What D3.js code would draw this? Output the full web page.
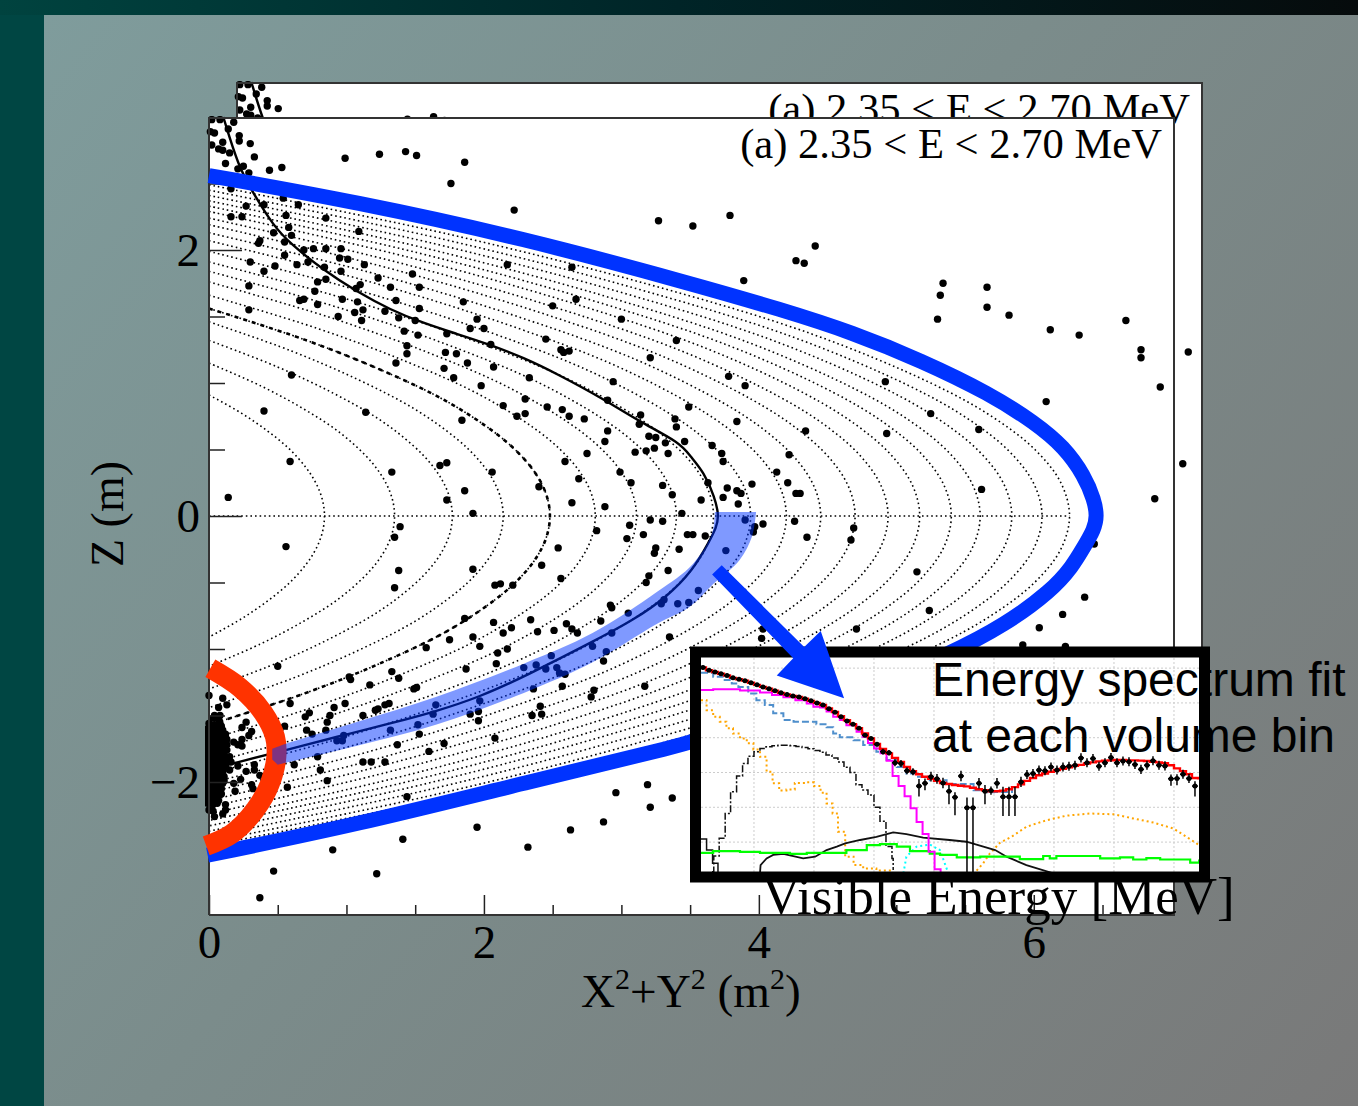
<!DOCTYPE html>
<html>
<head>
<meta charset="utf-8">
<script src="https://cdn.jsdelivr.net/npm/d3@7"></script>
<style>
  html, body { margin: 0; padding: 0; background: #000; }
  svg { display: block; }
  text { font-family: "Liberation Serif", serif; fill: #000; }
</style>
</head>
<body>
<div id="chart"></div>
<script>
// event positions, [X2+Y2, Z]
const topDots = [[.02,2.98],[.08,2.98],[.18,2.96],[.01,2.89],[.04,2.88],[.14,2.91],[.22,2.86],[.22,2.82],[.30,2.80],[.10,2.81],[.02,2.79],[.07,2.76],[.10,2.75],[.15,2.73],[.33,2.70],[.12,2.65],[.25,2.63],[.21,2.61],[.44,2.60],[.53,2.62],[.29,2.58],[.16,2.46],[.27,2.33],[.40,2.34],[.54,2.39],[.65,2.34],[.16,2.25],[.24,2.25],[.56,2.26],[.58,2.17],
  [.99,2.69],[1.24,2.72],[1.43,2.74],[1.51,2.71],[1.86,2.66],[1.76,2.50],[2.22,2.30],[3.27,2.22],[3.52,2.18],[3.79,2.26],[4.27,1.92],[4.33,1.90],[4.41,2.03],[3.89,1.77]];
const upperDots = [[.85,2.24],[1.09,2.14],[.60,2.11],[.47,2.13],[.55,2.06],[.37,2.07],[.36,2.05],[.55,1.96],[.69,2.00],[.76,2.01],[.85,2.01],[.96,2.01],[.95,1.94],[1.01,1.93],[1.13,1.89],[.72,1.91],[.64,1.89],[.48,1.88],[.30,1.91],[.40,1.84],[.84,1.87],[.96,1.84],[.85,1.78],[.79,1.76],[1.23,1.79],[1.48,1.82],[1.10,1.74],[1.07,1.71],[1.32,1.72],[1.53,1.72],[.29,1.73],[.77,1.69],[.97,1.63],[.69,1.63],[.66,1.62],[.79,1.59],[1.08,1.61],[1.36,1.62],[1.85,1.61],[1.53,1.56],[.29,1.55],[1.12,1.55],[1.06,1.53],[1.28,1.54],[.94,1.50],[1.38,1.49],[1.11,1.47],[1.50,1.47],[1.95,1.48],[1.90,1.41],[2.00,1.41],[1.42,1.39],[1.73,1.37],[1.52,1.36],[2.05,1.29],[2.45,1.33],[1.44,1.28],[1.44,1.22],[1.72,1.23],[1.80,1.22],[2.56,1.25],[2.58,1.23],[2.62,1.24],[1.36,1.15],[1.88,1.15],[2.07,1.12],[1.71,1.11],[1.78,1.04],[2.33,1.04],[.60,1.06],[1.98,.98],[2.14,.83],[2.30,.88],[2.46,.82],[2.57,.80],[2.62,.75],[2.30,.77],[2.24,.75],[2.73,.73],[1.84,.72],[.40,.79],[1.14,.78],[2.90,.87],[2.90,.64],[2.88,.56],[2.75,.47],[2.59,.41],[2.69,.28],[2.06,.33],[1.68,.38],[1.73,.40],[1.33,.33],[.59,.41],[1.86,.19],[1.73,.12],[.14,.14],[2.40,.22],[2.64,.10],[1.92,.02],[2.88,.07],[2.99,.33],[3.07,.25],[3.13,.69],[3.14,.76],[3.20,.60],[3.25,.59],[3.24,.51],[3.18,.49],[3.10,.48],[3.32,.55],[3.34,.47],[3.39,.73],[3.40,.67],[3.46,.56],[3.49,.82],[3.30,.23],[3.37,.16],[3.44,.02],[3.21,1.19],[3.40,1.32],[3.00,1.48],[2.94,1.01],[2.50,1.58],[2.67,1.63],[2.17,1.89],[2.64,1.87]];
const rightDots = [[5.34,1.75],[5.32,1.66],[5.30,1.48],[5.66,1.72],[5.66,1.57],[5.82,1.51],[6.12,1.40],[6.33,1.36],[6.67,1.47],[6.78,1.25],[6.78,1.19],[6.92,.97],[6.88,.13],[6.09,.86],[4.92,1.01],[5.25,.77],[5.60,.65],[3.78,1.05],[3.90,.98],[3.84,.71],[4.34,.64],[4.93,.62],[3.66,.53],[3.73,.47],[3.74,.41],[4.22,.46],[4.13,.33],[4.21,.25],[4.27,.17],[4.30,.17],[3.95,.24],[3.77,.21],[3.84,.19],[3.87,.17],[3.74,.14],[3.85,.09],[3.63,.25],[3.58,.12],[5.62,.20],[4.26,-.04],[4.03,-.06],[3.97,-.08],[3.96,-.12],[3.90,-.03],[3.76,-.26],[4.35,-.16],[4.69,-.09],[4.67,-.18],[5.15,-.42],[3.61,-.15],[6.44,-.21],[4.03,-.85],[4.02,-.92],[4.71,-.85],[6.21,-.74],[6.04,-.84],[6.37,-.61],[5.24,-.71],[5.92,-.97],[6.23,-.98]];
const lowerDots = [[3.21,-.03],[3.30,-.04],[3.06,-.07],[2.82,-.11],[1.39,-.08],[.56,-.23],[1.35,-.16],[1.38,-.41],[1.35,-.54],[1.92,-.40],[2.08,-.52],[2.12,-.51],[2.21,-.52],[2.54,-.24],[2.42,-.37],[2.56,-.47],[3.04,-.17],[3.16,-.14],[3.48,-.14],[3.52,-.14],[3.24,-.28],[3.25,-.24],[3.42,-.25],[3.34,-.41],[3.20,-.45],[3.18,-.50],[2.92,-.67],[2.93,-.69],[3.05,-.73],[2.85,-.79],[3.29,-.66],[3.31,-.63],[3.41,-.66],[3.49,-.65],[3.56,-.56],[3.35,-.91],[2.93,-.88],[2.79,-.98],[2.89,-1.02],[2.87,-1.09],[2.60,-.81],[2.64,-.85],[2.68,-.88],[2.34,-.78],[2.51,-.86],[2.39,-.87],[2.20,-.84],[2.14,-.88],[2.07,-.80],[1.86,-.77],[1.92,-.91],[1.97,-.98],[2.17,-1.00],[2.10,-1.03],[2.09,-1.11],[1.87,-1.15],[1.75,-.93],[1.58,-.99],[1.33,-1.17],[1.38,-1.22],[1.02,-1.21],[1.03,-1.23],[1.17,-1.27],[1.49,-1.30],[1.51,-1.29],[2.29,-1.14],[2.38,-1.12],[2.45,-1.15],[2.53,-1.14],[2.55,-1.18],[2.59,-1.19],[2.49,-1.05],[2.36,-1.30],[2.57,-1.28],[3.17,-1.28],[2.80,-1.31],[2.78,-1.36],[1.97,-1.39],[1.65,-1.42],[1.63,-1.49],[1.90,-1.49],[1.96,-1.47],[1.96,-1.54],[2.41,-1.43],[2.42,-1.49],[2.35,-1.50],[1.31,-1.41],[1.28,-1.42],[1.23,-1.45],[1.21,-1.46],[1.12,-1.50],[.99,-1.41],[.91,-1.44],[.88,-1.50],[.73,-1.48],[.70,-1.51],[.59,-1.41],[.50,-1.13],[.86,-1.55],[.85,-1.61],[.75,-1.64],[.71,-1.61],[.55,-1.58],[1.32,-1.61],[1.52,-1.57],[1.53,-1.64],[2.08,-1.67],[1.71,-1.71],[1.60,-1.77],[1.37,-1.72],[.98,-1.65],[.93,-1.69],[.97,-1.69],[.79,-1.81],[1.12,-1.85],[1.18,-1.85],[1.28,-1.85],[.81,-1.91],[.62,-1.87],[.86,-1.99],[.57,-2.04],[1.44,-2.11],[2.96,-2.08],[3.19,-2.02],[3.21,-2.19],[3.37,-2.12],[2.87,-2.30],[2.63,-2.36],[1.95,-2.34],[2.32,-2.49],[1.41,-2.43],[.90,-2.51],[.47,-2.67],[1.22,-2.69],[.37,-2.87]];
const clusterDots = [[0,-1.35],[.10,-1.37],[.07,-1.44],[.13,-1.42],[.04,-1.50],[.08,-1.50],[.27,-1.55],[.24,-1.59],[.31,-1.62],[.29,-1.65],[.24,-1.68],[.21,-1.72],[.24,-1.73],[.18,-1.70],[.15,-1.81],[.16,-1.85],[.21,-1.88],[.15,-1.91],[.27,-1.92],[.33,-1.87],[.33,-1.91],[.37,-1.95],[.23,-1.98],[.18,-2.01],[.31,-2.02],[.32,-2.05],[.19,-2.07],[.12,-2.17],[.12,-2.21],[.10,-2.24],[.04,-2.26],[0,-2.21],[.03,-2.22],
  [.03,-1.52],[.07,-1.53],[0,-1.56],[.04,-1.57],[.08,-1.56],[-.01,-1.60],[.03,-1.61],[.07,-1.60],[.10,-1.61],[-.02,-1.64],[.02,-1.65],[.06,-1.64],[.10,-1.65],[-.02,-1.68],[.02,-1.69],[.06,-1.68],[.10,-1.69],[.13,-1.68],[-.02,-1.72],[.02,-1.73],[.05,-1.72],[.09,-1.73],[.13,-1.72],[-.02,-1.76],[.02,-1.77],[.06,-1.76],[.10,-1.77],[.13,-1.76],[-.02,-1.80],[.01,-1.81],[.05,-1.80],[.09,-1.81],[-.02,-1.84],[.02,-1.85],[.06,-1.84],[.10,-1.85],[.12,-1.84],[-.02,-1.88],[.01,-1.89],[.05,-1.88],[.09,-1.89],[.12,-1.88],[-.02,-1.92],[.02,-1.93],[.06,-1.92],[.10,-1.93],[-.02,-1.96],[.01,-1.97],[.05,-1.96],[.09,-1.97],[.11,-1.96],[-.02,-2.00],[.02,-2.01],[.06,-2.00],[.10,-2.01],[-.02,-2.04],[.01,-2.05],[.05,-2.04],[.09,-2.05],[-.02,-2.08],[.02,-2.09],[.06,-2.08],[.09,-2.09],[-.01,-2.12],[.02,-2.13],[.05,-2.12],[-.01,-2.16],[.03,-2.17],[.06,-2.16],
  [.01,-1.58],[.05,-1.59],[.09,-1.58],[0,-1.62],[.04,-1.63],[.08,-1.62],[.12,-1.64],[0,-1.66],[.04,-1.67],[.08,-1.66],[.12,-1.66],[0,-1.70],[.04,-1.71],[.08,-1.70],[.11,-1.70],[0,-1.74],[.04,-1.75],[.08,-1.74],[.11,-1.74],[0,-1.78],[.03,-1.79],[.07,-1.78],[.11,-1.79],[0,-1.82],[.03,-1.83],[.07,-1.82],[.11,-1.82],[0,-1.86],[.04,-1.87],[.08,-1.86],[.11,-1.86],[0,-1.90],[.03,-1.91],[.07,-1.90],[.11,-1.90],[0,-1.94],[.04,-1.95],[.08,-1.94],[0,-1.98],[.03,-1.99],[.07,-1.98],[.11,-1.99],[0,-2.02],[.04,-2.03],[.08,-2.02],[0,-2.06],[.03,-2.07],[.07,-2.06],[0,-2.10],[.04,-2.11],[.07,-2.10],[0,-2.14],[.03,-2.15],[.07,-2.14]];

// dotted bin boundaries: tip on the Z=0 line, crossing of the Z axis above and below
const contourTips = [.84,1.35,1.77,2.14,2.48,2.81,3.11,3.40,3.67,3.94,4.20,4.45,4.70,4.94,5.17,5.40,5.61,5.84,6.06,6.26];
const contourTops = [.91,1.15,1.32,1.46,1.56,1.66,1.76,1.84,1.91,1.99,2.07,2.13,2.19,2.24,2.29,2.33,2.37,2.41,2.45,2.49];
const contourBottoms = [-.91,-1.13,-1.30,-1.44,-1.57,-1.68,-1.77,-1.86,-1.94,-2.01,-2.08,-2.14,-2.19,-2.24,-2.29,-2.33,-2.37,-2.41,-2.45,-2.48];
// shape shared by the boundaries: fraction of the axis crossing, fraction of the tip
const contourProfile = [[1,0],[.85,.28],[.7,.51],[.55,.70],[.4,.84],[.3,.91],[.2,.96],[.1,.99],[0,1]];
const heavyContour = 4;

const solidCurve = [[.104,3.0],[.213,2.63],[.32,2.43],[.47,2.18],[.59,2.05],[.83,1.85],[1.07,1.69],[1.32,1.55],[1.56,1.45],[1.80,1.37],[2.04,1.29],[2.29,1.19],[2.53,1.07],[2.87,.88],[3.13,.71],[3.43,.55],[3.50,.45],[3.60,.33],[3.68,.14],[3.71,0],[3.69,-.09],[3.64,-.19],[3.52,-.41],[3.33,-.61],[3.09,-.78],[2.84,-.92],[2.29,-1.21],[1.97,-1.36],[1.65,-1.47],[1.32,-1.56],[.93,-1.66],[.56,-1.76],[.18,-1.86],[0,-1.90]];
const blueBoundary = [[0,2.56],[1.08,2.36],[2.28,2.09],[3.50,1.75],[4.17,1.55],[4.68,1.38],[5.18,1.17],[5.68,.92],[6.01,.70],[6.22,.52],[6.37,.30],[6.44,.12],[6.46,0],[6.44,-.10],[6.36,-.24],[6.28,-.38],[6.13,-.56],[5.79,-.82],[5.38,-1.04],[4.90,-1.25],[4.33,-1.46],[3.57,-1.67],[3.50,-1.71],[2.28,-2.01],[1.08,-2.32],[-.01,-2.55]];
const redArc = [[.01,-1.145],[.225,-1.29],[.395,-1.48],[.48,-1.66],[.49,-1.81],[.44,-2.02],[.335,-2.21],[.165,-2.39],[-.02,-2.48]];
const bandInner = [[3.68,.03],[3.66,-.13],[3.52,-.36],[3.26,-.57],[2.79,-.88],[2.29,-1.11],[1.65,-1.36],[1.07,-1.55],[.565,-1.71],[.46,-1.75]];
const bandOuter = [[.50,-1.87],[1.07,-1.73],[1.65,-1.57],[2.29,-1.33],[2.79,-1.10],[3.26,-.81],[3.50,-.68],[3.67,-.51],[3.86,-.33],[3.95,-.155],[3.98,.03]];
const bandEnd = [[.46,-1.83]];
const arrowShape = [[3.73,-.37],[4.33,-.985],[4.45,-.865],[4.62,-1.37],[4.13,-1.20],[4.25,-1.07],[3.66,-.44]];

const xMajor = [0, 2, 4, 6];
const xMinor = [.5,1,1.5,2.5,3,3.5,4.5,5,5.5,6.5];
const zMajor = [-2, 0, 2];
const zMinor = [-2.5,-1.5,-1,-.5,.5,1,1.5,2.5];
const zeroLineEnd = 6.26;

// inset spectrum, in bins and grid divisions
const specGridX = [10,20,30,40,50,60,70,80];
const specGridY = [1,2,3,4,5,6];
const specPoints = [6.02,5.94,5.89,5.84,5.79,5.72,5.68,5.64,5.58,5.52,5.46,5.41,5.35,5.29,5.24,5.20,5.17,5.12,5.06,5.00,4.94,4.83,4.73,4.60,4.48,4.39,4.27,4.07,3.98,3.81,3.60,3.57,3.28,3.26,3.05,3.02,2.61,2.69,2.88,2.82,2.70,2.46,2.29,2.90,1.99,1.99,2.69,2.46,2.48,2.69,2.30,2.30,2.30,2.73,2.94,2.97,3.07,3.05,3.16,3.07,3.16,3.18,3.21,3.42,3.28,3.40,3.18,3.28,3.43,3.28,3.33,3.31,3.23,3.09,3.21,3.34,3.21,3.19,2.82,2.83,2.95,2.83,2.61];
const specErrUp = [.05,.05,.05,.05,.05,.05,.05,.05,.05,.05,.05,.05,.05,.05,.05,.05,.05,.05,.05,.05,.05,.05,.05,.05,.05,.05,.05,.05,.05,.06,.08,.08,.1,.1,.1,.1,.2,.14,.14,.14,.15,.18,.14,.15,.29,.29,.15,.18,.12,.15,.29,.29,.29,.15,.13,.13,.13,.13,.13,.13,.13,.13,.13,.13,.13,.13,.13,.13,.13,.13,.13,.13,.13,.13,.13,.13,.13,.13,.12,.12,.13,.13,.14];
const specErrDown = [.05,.05,.05,.05,.05,.05,.05,.05,.05,.05,.05,.05,.05,.05,.05,.05,.05,.05,.05,.05,.05,.05,.05,.05,.05,.05,.05,.05,.05,.06,.08,.08,.1,.1,.1,.1,.3,.2,.14,.14,.15,.37,.52,.15,3,3,.15,.37,.12,.15,.55,.55,.55,.15,.13,.13,.13,.13,.13,.13,.13,.13,.13,.13,.13,.13,.13,.13,.13,.13,.13,.13,.13,.13,.13,.13,.13,.13,.2,.2,.13,.13,.30];
const specTotal = [6.02,5.94,5.89,5.84,5.79,5.72,5.68,5.64,5.58,5.52,5.46,5.41,5.35,5.29,5.24,5.20,5.17,5.12,5.06,5.00,4.94,4.84,4.74,4.62,4.50,4.39,4.27,4.12,3.98,3.82,3.68,3.55,3.42,3.30,3.16,3.04,2.95,2.88,2.82,2.76,2.70,2.67,2.64,2.62,2.60,2.56,2.52,2.49,2.46,2.46,2.48,2.52,2.58,2.66,2.76,2.84,2.92,2.97,3.02,3.07,3.11,3.15,3.19,3.22,3.26,3.29,3.32,3.34,3.35,3.36,3.36,3.35,3.35,3.34,3.33,3.31,3.29,3.27,3.21,3.12,3.04,2.95,2.84,2.80];
const specMagenta = [[1.17,5.37],[3.2,5.39],[5.4,5.39],[7.67,5.36],[11,5.30],[13,5.23],[14.9,5.16],[16.9,5.08],[18.8,4.98],[19.9,4.89],[21,4.87],[22.1,4.75],[23.2,4.60],[24.3,4.51],[25.4,4.36],[27.1,4.17],[28.1,4.03],[29,3.85],[30,3.69],[31.1,3.55],[32.1,3.34],[33.1,2.90],[34.1,2.61],[35.1,2.32],[36.1,1.97],[37.1,1.58],[38.1,1.23],[39.1,.72],[40.1,.22],[41.1,0]];
const specSteel = [[1.17,5.87],[3.2,5.75],[4.9,5.66],[6.3,5.56],[7.4,5.46],[9.05,5.27],[10.4,5.08],[11.8,4.94],[13.2,4.70],[14.9,4.51],[16.6,4.46],[18.8,4.46],[20.4,4.39],[22.1,4.30],[23.2,4.12],[24.3,4.01],[26.6,3.93],[28.2,3.79],[30.4,3.60],[32.1,3.36],[33.8,3.16],[35.4,2.97],[37.1,2.88],[39.3,2.78],[42.1,2.67],[46.6,2.49],[49,2.43],[50,2.44],[53,2.62]];
const specOrangeLow = [[1.17,5.08],[2.1,4.79],[3.2,4.60],[4.3,4.46],[5.4,4.27],[6.5,4.12],[7.67,3.98],[8.8,3.84],[9.9,3.66],[11,3.45],[12.1,3.02],[13.1,2.69],[14.2,2.48],[15.4,2.51],[16.8,2.70],[18.8,2.72],[20,2.61],[21.1,2.42],[22.1,2.11],[23.1,1.82],[24,1.30],[25.2,1.01],[25.2,.58],[26.6,.34],[28.2,.24],[30.4,.18],[33.2,.16]];
const specOrangeHigh = [[47.1,.18],[48.2,.39],[49.3,.67],[51,.98],[52.9,1.15],[55.4,1.44],[58.8,1.63],[62.1,1.76],[66,1.82],[69.9,1.80],[73.2,1.68],[76.6,1.56],[79.9,1.39],[82.1,1.15],[84.2,.91]];
const specDashDot = [[3,.15],[3.3,.6],[4.2,1.11],[5.2,1.82],[6.1,2.45],[7.1,2.90],[8.1,3.26],[9,3.47],[10,3.60],[11,3.69],[12,3.74],[13,3.77],[14,3.78],[15,3.78],[16,3.77],[17,3.75],[18,3.72],[19,3.68],[20,3.63],[21,3.58],[22,3.50],[23,3.42],[24,3.30],[25,3.15],[26,3.00],[27,2.65],[28,2.50],[29,2.35],[30,2.00],[31,1.60],[32,.87],[33,.53],[33.2,.2]];
const specBlackLeft = [[1.17,1.09],[2.1,.77],[3.1,.39],[4,.1]];
const specBlack = [[11,.1],[11.1,.34],[12.1,.53],[13.2,.63],[14.9,.66],[18.2,.53],[20.2,.58],[22.1,.77],[23.8,.87],[25.2,.96],[27.7,1.06],[30.4,1.15],[33.2,1.28],[35.4,1.23],[38.2,1.13],[42.6,1.06],[45.4,1.01],[50.2,.77],[52.1,.58],[55.4,.34],[59.9,.1]];
const specGreen = [[1.17,.69],[3.2,.74],[7.67,.72],[11,.69],[16,.66],[18.8,.69],[25.4,.77],[28.8,.91],[31,.94],[33.8,.87],[36,.74],[39.3,.67],[41,.63],[43.8,.56],[47.7,.58],[50.4,.58],[54.3,.51],[58.2,.60],[59.3,.53],[60.4,.60],[64.3,.60],[67.7,.53],[71,.56],[73.2,.50],[75.4,.54],[77.7,.50],[81.6,.50],[82.7,.41],[84.2,.50]];
const specCyan = [[34.9,.1],[35.4,.58],[37.1,.87],[39.3,.93],[41,.77],[42.4,.1]];

const width = 1358, height = 1106;
const svg = d3.select("#chart").append("svg")
    .attr("width", width)
    .attr("height", height);

const defs = svg.append("defs");

function addGradient(id, x1, y1, x2, y2, stops) {
    const g = defs.append("linearGradient")
        .attr("id", id)
        .attr("gradientUnits", "userSpaceOnUse")
        .attr("x1", x1).attr("y1", y1).attr("x2", x2).attr("y2", y2);
    stops.forEach(s => g.append("stop").attr("offset", s[0]).attr("stop-color", s[1]));
}
addGradient("slideBg", 44, 15, 1358, 1106, [[0, "#7f9c9c"], [.45, "#7b8c8b"], [1, "#797979"]]);
addGradient("topBar", 0, 0, 1358, 0, [[0, "#00433f"], [.5, "#002427"], [1, "#060b0c"]]);

svg.append("rect").attr("width", width).attr("height", height).attr("fill", "#004643");
svg.append("rect").attr("width", width).attr("height", 15).attr("fill", "url(#topBar)");
svg.append("rect").attr("x", 44).attr("y", 15).attr("width", width - 44).attr("height", height - 15).attr("fill", "url(#slideBg)");

// main scales
const x = d3.scaleLinear().domain([0, 7.02]).range([209, 1174]);
const z = d3.scaleLinear().domain([-3, 3]).range([915, 117]);
const panelW = 965, panelH = 796;

const smooth = d3.line().x(d => x(d[0])).y(d => z(d[1])).curve(d3.curveCatmullRom.alpha(.5));
const rounded = d3.line().x(d => x(d[0])).y(d => z(d[1])).curve(d3.curveBasis);
const allDots = topDots.concat(upperDots, rightDots, lowerDots, clusterDots);

function contourPoints(i) {
    const up = contourProfile.map(p => [contourTips[i] * p[1], contourTops[i] * p[0]]);
    const down = contourProfile.slice(0, -1).reverse().map(p => [contourTips[i] * p[1], contourBottoms[i] * p[0]]);
    return up.concat(down);
}

// the plot itself; it sits twice on the slide, one copy slipped behind the other
function drawPlot(g, clipId, front) {
    g.append("rect")
        .attr("x", x(0)).attr("y", z(3) + 1)
        .attr("width", panelW).attr("height", panelH)
        .attr("fill", "#fff");

    defs.append("clipPath").attr("id", clipId).append("rect")
        .attr("x", x(0) - 4).attr("y", z(3) - 1)
        .attr("width", panelW + 4).attr("height", panelH + 2);

    g.selectAll(".contour")
        .data(contourTips)
        .enter().append("path")
        .attr("class", "contour")
        .attr("d", (d, i) => smooth(contourPoints(i)))
        .attr("fill", "none")
        .attr("stroke", "#000")
        .attr("stroke-width", 1.6)
        .attr("stroke-dasharray", "1.6 3");

    g.append("path")
        .attr("d", smooth(contourPoints(heavyContour)))
        .attr("fill", "none")
        .attr("stroke", "#000")
        .attr("stroke-width", 2.6)
        .attr("stroke-dasharray", "4 5");

    g.append("line")
        .attr("x1", x(0)).attr("x2", x(zeroLineEnd))
        .attr("y1", z(0)).attr("y2", z(0))
        .attr("stroke", "#000")
        .attr("stroke-width", 1.6)
        .attr("stroke-dasharray", "1.6 3");

    const clipped = g.append("g").attr("clip-path", `url(#${clipId})`);

    clipped.selectAll("circle")
        .data(allDots)
        .enter().append("circle")
        .attr("cx", d => x(d[0]))
        .attr("cy", d => z(d[1]))
        .attr("r", 3.7)
        .attr("fill", "#000");

    clipped.append("path")
        .attr("d", rounded(solidCurve))
        .attr("fill", "none")
        .attr("stroke", "#000")
        .attr("stroke-width", 2.4);

    // axes
    function addAxis(axis, tx, ty, labels) {
        const a = g.append("g").attr("transform", `translate(${tx},${ty})`).call(axis);
        a.select(".domain").remove();
        a.selectAll("line").attr("stroke", "#222").attr("stroke-width", 1.5);
        if (labels) {
            a.selectAll("text")
                .attr("font-family", "Liberation Serif, serif")
                .attr("font-size", 47);
        } else {
            a.selectAll("text").remove();
        }
    }
    addAxis(d3.axisLeft(z).tickValues(zMajor).tickSizeInner(-33).tickSizeOuter(0).tickPadding(9)
        .tickFormat(d => d < 0 ? "\u2212" + Math.abs(d) : d), x(0), 0, front);
    addAxis(d3.axisLeft(z).tickValues(zMinor).tickSizeInner(-16).tickSizeOuter(0), x(0), 0, false);
    addAxis(d3.axisBottom(x).tickValues(xMajor).tickSizeInner(-20).tickSizeOuter(0).tickPadding(10)
        .tickFormat(d3.format("d")), 0, z(-3), front);
    addAxis(d3.axisBottom(x).tickValues(xMinor).tickSizeInner(-10).tickSizeOuter(0), 0, z(-3), false);

    // frame
    g.append("path")
        .attr("d", `M${x(0)},${z(-3)}V${z(3) + 1}H${x(0) + panelW}V${z(-3)}H${x(0)}`)
        .attr("fill", "none")
        .attr("stroke", "#333")
        .attr("stroke-width", 2);

    // the title is cut by the frame on the hidden copy
    g.append("text")
        .attr("x", x(0) + 953)
        .attr("y", z(3) + 41)
        .attr("text-anchor", "end")
        .attr("font-size", 42.6)
        .text("(a) 2.35 < E < 2.70 MeV");
}

drawPlot(svg.append("g").attr("transform", "translate(28,-35)"), "clipBack", false);
drawPlot(svg.append("g"), "clipFront", true);

// axis titles
const xTitle = svg.append("text")
    .attr("x", 581)
    .attr("y", 1007)
    .attr("font-size", 47.2);
xTitle.append("tspan").text("X");
xTitle.append("tspan").attr("dy", -18).attr("font-size", 30).text("2");
xTitle.append("tspan").attr("dy", 18).text("+Y");
xTitle.append("tspan").attr("dy", -18).attr("font-size", 30).text("2");
xTitle.append("tspan").attr("dy", 18).text(" (m");
xTitle.append("tspan").attr("dy", -18).attr("font-size", 30).text("2");
xTitle.append("tspan").attr("dy", 18).text(")");

svg.append("text")
    .attr("transform", "translate(123,567) rotate(-90)")
    .attr("font-size", 46)
    .text("Z (m)");

// overlays drawn on the slide
svg.append("path")
    .attr("d", rounded(blueBoundary))
    .attr("fill", "none")
    .attr("stroke", "#0033ff")
    .attr("stroke-width", 15);

svg.append("path")
    .attr("d", smooth(redArc))
    .attr("fill", "none")
    .attr("stroke", "#ff3300")
    .attr("stroke-width", 20);

const bandPath = smooth(bandInner) + "L" + x(bandEnd[0][0]) + "," + z(bandEnd[0][1]) + "L" + smooth(bandOuter).slice(1) + "Z";
svg.append("path")
    .attr("d", bandPath)
    .attr("fill", "#0033ff")
    .attr("fill-opacity", .5);

// axis label of the pasted spectrum, mostly under its frame
svg.append("text")
    .attr("x", 762)
    .attr("y", 914)
    .attr("font-size", 53)
    .text("Visible Energy [MeV]");

// inset
const ix = d3.scaleLinear().domain([1.17, 84.17]).range([701, 1199]);
const iy = d3.scaleLinear().domain([.14, 6.32]).range([872, 657]);

svg.append("rect")
    .attr("x", ix(1.17)).attr("y", iy(6.32))
    .attr("width", 498).attr("height", 215)
    .attr("fill", "#fff");

defs.append("clipPath").attr("id", "clipInset").append("rect")
    .attr("x", ix(1.17)).attr("y", iy(6.32))
    .attr("width", 498).attr("height", 215);

const inset = svg.append("g").attr("clip-path", "url(#clipInset)");

inset.selectAll(".gridx").data(specGridX).enter().append("line")
    .attr("x1", d => ix(d)).attr("x2", d => ix(d))
    .attr("y1", iy(.14)).attr("y2", iy(6.32))
    .attr("stroke", "#ccc").attr("stroke-dasharray", "2 2");
inset.selectAll(".gridy").data(specGridY).enter().append("line")
    .attr("x1", ix(1.17)).attr("x2", ix(84.17))
    .attr("y1", d => iy(d)).attr("y2", d => iy(d))
    .attr("stroke", "#ccc").attr("stroke-dasharray", "2 2");

const stepLine = d3.line().x(d => ix(d[0])).y(d => iy(d[1])).curve(d3.curveStepAfter);
const plainLine = d3.line().x(d => ix(d[0])).y(d => iy(d[1]));
const specBin = i => i + 1;

function addSpec(gen, data, color, w, dash) {
    inset.append("path")
        .attr("d", gen(data))
        .attr("fill", "none")
        .attr("stroke", color)
        .attr("stroke-width", w)
        .attr("stroke-dasharray", dash || null);
}
addSpec(stepLine, specOrangeLow, "#ffa500", 2, "2 3");
addSpec(plainLine, specOrangeHigh, "#ffa500", 2, "2 3");
addSpec(plainLine, specCyan, "#00ffff", 2, "2 3");
addSpec(stepLine, specDashDot, "#111", 1.5, "7 2 2 2");
addSpec(stepLine, specBlackLeft, "#111", 1.5);
addSpec(plainLine, specBlack, "#111", 1.8);
addSpec(stepLine, specGreen, "#00ff00", 2.2);
addSpec(stepLine, specSteel, "#4f8fcc", 2, "7 3");
addSpec(stepLine, specMagenta, "#ff00ff", 2);
addSpec(stepLine, specTotal.map((d, i) => [specBin(i), d]), "#ff0000", 2.4);

const specData = specPoints.map((d, i) => ({ b: specBin(i) + .5, u: d, up: specErrUp[i], down: specErrDown[i] }));
inset.selectAll(".err").data(specData).enter().append("line")
    .attr("x1", d => ix(d.b)).attr("x2", d => ix(d.b))
    .attr("y1", d => iy(d.u + d.up)).attr("y2", d => iy(d.u - d.down))
    .attr("stroke", "#000").attr("stroke-width", 1.5);
inset.selectAll(".cap").data(specData).enter().append("line")
    .attr("x1", d => ix(d.b - .5)).attr("x2", d => ix(d.b + .5))
    .attr("y1", d => iy(d.u)).attr("y2", d => iy(d.u))
    .attr("stroke", "#000").attr("stroke-width", 1.5);
inset.selectAll(".pt").data(specData).enter().append("circle")
    .attr("cx", d => ix(d.b)).attr("cy", d => iy(d.u))
    .attr("r", 2.5)
    .attr("fill", "#000");

svg.append("rect")
    .attr("x", ix(1.17) - 5.5).attr("y", iy(6.32) - 5)
    .attr("width", 509).attr("height", 225)
    .attr("fill", "none")
    .attr("stroke", "#000")
    .attr("stroke-width", 11);

[["Energy spectrum fit", 696], ["at each volume bin", 752]].forEach(t => {
    svg.append("text")
        .attr("x", 932)
        .attr("y", t[1])
        .attr("font-size", 48)
        .style("font-family", "Liberation Sans, sans-serif")
        .text(t[0]);
});

// arrow from the selected bin to the fit
svg.append("path")
    .attr("d", d3.line().x(d => x(d[0])).y(d => z(d[1])).curve(d3.curveLinearClosed)(arrowShape))
    .attr("fill", "#0033ff");
</script>
</body>
</html>
